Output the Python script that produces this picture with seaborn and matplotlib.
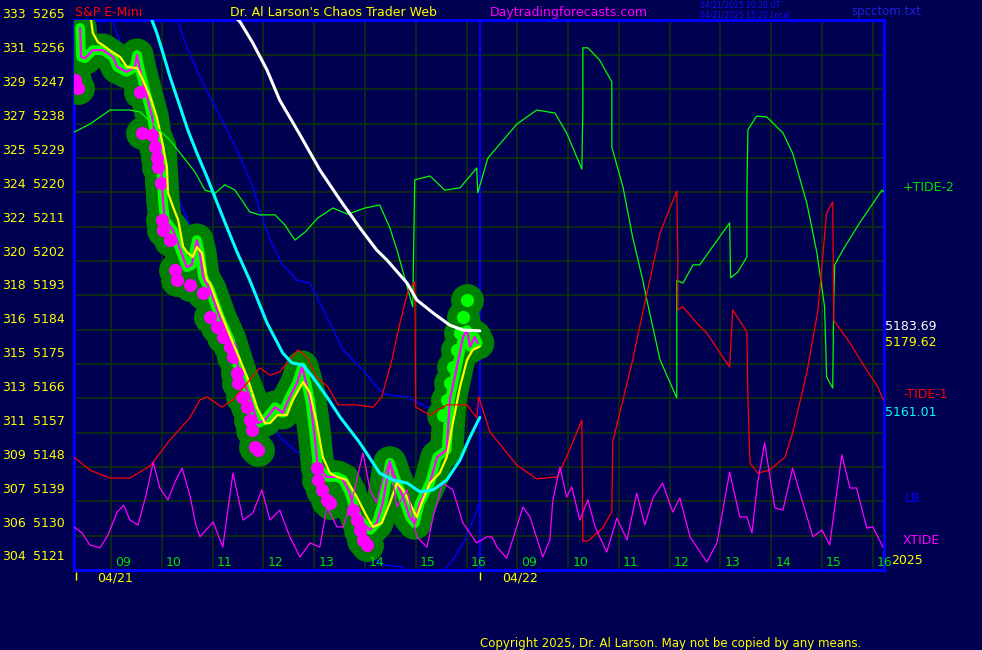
import pandas as pd
import seaborn as sns
import matplotlib.pyplot as plt

# time axis in hours; 04/22 session continues at +8 h (16:15 day 1 == 08:15 day 2)
hour_ticks = [9, 10, 11, 12, 13, 14, 15, 16, 17, 18, 19, 20, 21, 22, 23, 24]
hour_labels = ["09", "10", "11", "12", "13", "14", "15", "16",
               "09", "10", "11", "12", "13", "14", "15", "16"]
price_grid = [5121, 5130, 5139, 5148, 5157, 5166, 5175, 5184, 5193,
              5202, 5211, 5220, 5229, 5238, 5247, 5256, 5265]
price_labels = ["5265", "5256", "5247", "5238", "5229", "5220", "5211", "5202", "5193",
                "5184", "5175", "5166", "5157", "5148", "5139", "5130", "5121"]
left_scale = ["333", "331", "329", "327", "325", "324", "322", "320", "318",
              "316", "315", "313", "311", "309", "307", "306", "304"]

# S&P e-mini price (magenta) and its average (yellow)
price_t = [8.39, 8.41, 8.49, 8.64, 8.84, 9.04, 9.12, 9.31, 9.47, 9.51,
           9.57, 9.67, 9.81, 9.86, 9.96, 10.00, 10.02, 10.06, 10.22, 10.49,
           10.59, 10.65, 10.69, 10.75, 10.81, 10.95, 11.14, 11.34, 11.54, 11.73,
           11.89, 12.03, 12.23, 12.38, 12.52, 12.66, 12.76, 12.82, 12.92, 13.01,
           13.07, 13.25, 13.45, 13.57, 13.70, 13.84, 13.96, 14.10, 14.23, 14.35,
           14.49, 14.63, 14.75, 14.88, 14.98, 15.08, 15.28, 15.42, 15.61, 15.67,
           15.81, 15.93, 16.01, 16.07, 16.16, 16.22]
price_p = [5263.1, 5255.5, 5255.2, 5257.3, 5257.3, 5255.5, 5252.9, 5251.6, 5252.9, 5256.0,
           5252.1, 5246.9, 5239.8, 5235.1, 5231.9, 5223.3, 5218.0, 5212.8, 5210.1, 5200.4,
           5201.0, 5204.9, 5207.5, 5204.1, 5197.8, 5194.4, 5187.3, 5181.3, 5172.7, 5166.4,
           5159.5, 5160.3, 5163.7, 5162.2, 5166.4, 5170.0, 5174.2, 5171.3, 5165.6, 5155.9,
           5148.0, 5145.4, 5145.4, 5144.6, 5141.2, 5134.9, 5133.3, 5131.5, 5133.3, 5138.6,
           5149.1, 5143.8, 5140.1, 5134.9, 5133.3, 5138.6, 5143.8, 5150.6, 5152.5, 5165.6,
           5174.2, 5182.1, 5183.9, 5179.5, 5182.1, 5180.5]
ma_t = [8.58, 8.64, 8.74, 8.84, 9.02, 9.18, 9.31, 9.51, 9.61, 9.77,
        9.90, 10.00, 10.10, 10.12, 10.22, 10.32, 10.42, 10.51, 10.61, 10.69,
        10.79, 10.89, 10.95, 11.14, 11.40, 11.68, 11.87, 12.03, 12.13, 12.27,
        12.46, 12.58, 12.78, 12.92, 13.05, 13.17, 13.31, 13.45, 13.64, 13.84,
        14.04, 14.16, 14.33, 14.49, 14.63, 14.75, 14.92, 15.02, 15.14, 15.28,
        15.47, 15.61, 15.73, 15.87, 16.01, 16.12, 16.26]
ma_p = [5267.8, 5261.8, 5259.4, 5258.6, 5256.8, 5255.5, 5252.9, 5252.6, 5250.0, 5245.0,
        5239.8, 5233.7, 5226.7, 5219.9, 5216.2, 5212.8, 5205.7, 5204.1, 5203.1, 5205.7,
        5204.1, 5197.0, 5196.2, 5189.2, 5180.5, 5171.6, 5163.7, 5159.5, 5159.5, 5161.6,
        5161.6, 5165.6, 5170.3, 5167.4, 5159.5, 5150.6, 5146.4, 5145.4, 5144.6, 5140.1,
        5134.9, 5132.3, 5133.3, 5138.6, 5143.8, 5142.0, 5137.5, 5134.9, 5139.4, 5143.8,
        5146.4, 5150.6, 5159.5, 5169.0, 5176.1, 5178.7, 5179.6]

# down dots (magenta) and up dots (lime)
dot_t = [8.29, 8.35, 9.57, 9.61, 9.81, 9.86, 9.90, 9.92, 9.98, 10.00,
         10.02, 10.16, 10.26, 10.30, 10.55, 10.81, 10.95, 11.09, 11.20, 11.34,
         11.40, 11.48, 11.50, 11.58, 11.68, 11.73, 11.77, 11.83, 11.89, 13.05,
         13.07, 13.15, 13.25, 13.31, 13.76, 13.84, 13.90, 13.96, 14.04]
dot_p = [5249.5, 5247.4, 5246.3, 5235.6, 5235.1, 5231.9, 5229.0, 5226.7, 5222.5, 5212.8,
         5210.1, 5207.5, 5199.7, 5197.0, 5195.7, 5193.6, 5187.3, 5184.7, 5182.1, 5179.5,
         5176.8, 5172.7, 5170.0, 5166.4, 5163.7, 5160.3, 5157.7, 5153.2, 5152.5, 5147.7,
         5144.6, 5142.0, 5139.4, 5138.6, 5136.7, 5134.1, 5131.5, 5128.9, 5127.6]
up_t = [15.53, 15.61, 15.67, 15.73, 15.81, 15.87, 15.93, 16.01]
up_p = [5161.6, 5165.6, 5170.0, 5174.2, 5178.7, 5183.1, 5187.3, 5191.8]

# white and cyan averages
white_t = [11.30, 11.54, 11.79, 12.07, 12.32, 12.72, 13.11, 13.51, 13.90, 14.23,
           14.43, 14.83, 15.02, 15.34, 15.67, 15.93, 16.26]
white_p = [5268.0, 5264.7, 5259.2, 5252.1, 5244.2, 5235.1, 5225.9, 5218.0, 5210.7, 5204.9,
           5202.3, 5196.2, 5191.8, 5188.4, 5185.2, 5183.9, 5183.7]
cyan_t = [9.73, 9.90, 10.02, 10.16, 10.36, 10.51, 10.69, 10.89, 11.09, 11.28,
          11.48, 11.73, 12.07, 12.38, 12.56, 12.78, 12.97, 13.25, 13.51, 13.90,
          14.29, 14.55, 14.83, 15.08, 15.34, 15.61, 15.87, 16.07, 16.26]
cyan_p = [5267.8, 5261.8, 5256.6, 5250.3, 5242.4, 5236.4, 5230.3, 5224.0, 5217.2, 5210.9,
          5204.4, 5197.0, 5185.8, 5177.9, 5175.3, 5174.7, 5171.6, 5166.4, 5161.1, 5154.3,
          5146.4, 5144.6, 5143.8, 5141.5, 5142.0, 5144.6, 5149.8, 5155.9, 5161.0]

# LB lines (blue)
blue1_t = [10.28, 10.49, 10.75, 11.01, 11.28, 11.54, 11.79, 11.99, 12.13, 12.38,
           12.66, 12.92, 13.25, 13.57, 13.96, 14.29, 14.43, 14.83, 15.22, 15.47]
blue1_p = [5266.5, 5258.1, 5250.3, 5243.4, 5236.4, 5229.3, 5221.4, 5212.8, 5207.5, 5201.0,
           5197.0, 5196.2, 5187.3, 5178.7, 5173.4, 5168.2, 5166.9, 5166.4, 5163.7, 5163.0]
blue2_t = [9.00, 9.18, 9.77, 10.75, 11.73, 12.32, 12.66, 12.78, 13.31, 13.70,
           14.10, 14.39, 14.73, 14.83, 15.53, 15.77, 15.97, 16.26]
blue2_p = [5266.0, 5259.2, 5236.4, 5204.9, 5170.8, 5155.9, 5151.9, 5151.9, 5143.3, 5132.8,
           5124.4, 5122.3, 5121.8, 5120.5, 5120.5, 5124.4, 5128.9, 5138.6]

# +TIDE-2 (green)
tide2_t = [8.27, 8.58, 8.98, 9.37, 9.57, 10.16, 10.65, 10.85, 11.05, 11.24,
           11.44, 11.73, 11.93, 12.23, 12.42, 12.62, 12.82, 13.07, 13.37, 13.66,
           14.00, 14.29, 14.49, 14.63, 14.94, 14.98, 15.28, 15.57, 15.87, 16.12,
           16.20, 16.22, 16.42, 16.99, 17.38, 17.74, 17.97, 18.27, 18.29, 18.29,
           18.39, 18.62, 18.86, 18.86, 19.08, 19.27, 19.47, 19.55, 19.81, 20.14,
           20.14, 20.26, 20.46, 20.59, 21.18, 21.20, 21.34, 21.52, 21.52, 21.54,
           21.71, 21.91, 22.23, 22.42, 22.70, 22.90, 23.05, 23.09, 23.21, 23.23,
           23.25, 23.41, 23.74, 24.18, 24.24]
tide2_p = [5235.8, 5237.9, 5241.6, 5241.6, 5241.1, 5233.7, 5225.4, 5220.6, 5219.8, 5222.0,
           5220.6, 5214.9, 5214.1, 5214.1, 5211.5, 5207.5, 5209.6, 5213.3, 5215.9, 5214.3,
           5215.9, 5216.7, 5210.7, 5204.9, 5190.0, 5223.3, 5224.3, 5220.6, 5221.2, 5225.1,
           5226.4, 5219.9, 5229.0, 5237.9, 5241.6, 5240.8, 5235.6, 5226.1, 5242.1, 5257.9,
           5257.9, 5254.7, 5249.0, 5231.9, 5221.4, 5208.3, 5197.0, 5191.8, 5176.1, 5166.1,
           5197.0, 5196.2, 5201.0, 5201.0, 5212.0, 5197.6, 5199.1, 5203.1, 5219.9, 5236.4,
           5240.0, 5239.8, 5235.6, 5230.3, 5217.2, 5204.1, 5190.0, 5171.6, 5168.7, 5191.8,
           5201.0, 5204.9, 5212.0, 5220.6, 5219.9]

# -TIDE-1 (red)
tide1_t = [8.27, 8.58, 8.98, 9.37, 9.77, 10.16, 10.55, 10.75, 10.89, 11.18,
           11.40, 11.93, 12.13, 12.32, 12.68, 12.86, 13.05, 13.27, 13.47, 13.84,
           14.16, 14.33, 14.53, 14.69, 14.85, 14.98, 15.00, 15.28, 15.61, 16.01,
           16.20, 16.24, 16.46, 16.99, 17.38, 17.78, 17.97, 18.27, 18.29, 18.39,
           18.68, 18.86, 18.88, 19.08, 19.27, 19.45, 19.81, 20.14, 20.16, 20.16,
           20.26, 20.53, 20.73, 21.18, 21.24, 21.52, 21.54, 21.58, 21.73, 21.97,
           22.27, 22.42, 22.70, 22.92, 23.09, 23.21, 23.23, 23.55, 23.84, 24.10,
           24.20]
tide1_p = [5150.6, 5147.2, 5145.1, 5145.1, 5148.3, 5155.1, 5160.9, 5165.6, 5166.4, 5163.7,
           5165.6, 5174.0, 5172.1, 5172.9, 5178.7, 5176.8, 5171.6, 5169.0, 5164.3, 5164.3,
           5163.7, 5166.4, 5176.1, 5185.8, 5194.4, 5196.5, 5163.7, 5161.6, 5164.3, 5164.3,
           5160.9, 5166.4, 5157.2, 5148.5, 5144.9, 5145.4, 5150.6, 5160.3, 5128.6, 5128.6,
           5132.0, 5136.2, 5154.6, 5165.6, 5176.1, 5187.3, 5209.4, 5220.4, 5204.9, 5189.2,
           5190.0, 5185.8, 5183.1, 5174.2, 5189.2, 5183.4, 5166.4, 5149.1, 5146.4, 5147.2,
           5150.6, 5156.9, 5172.7, 5189.2, 5214.6, 5217.5, 5186.5, 5180.5, 5174.2, 5169.0,
           5165.6]

# XTIDE (magenta, bottom)
xtide_t = [8.27, 8.43, 8.58, 8.78, 8.94, 9.12, 9.25, 9.37, 9.53, 9.69,
           9.83, 9.96, 10.12, 10.26, 10.40, 10.55, 10.67, 10.75, 11.01, 11.20,
           11.40, 11.60, 11.79, 11.97, 12.13, 12.32, 12.52, 12.72, 12.92, 13.11,
           13.25, 13.45, 13.57, 13.76, 13.96, 14.10, 14.23, 14.35, 14.49, 14.63,
           14.83, 15.02, 15.22, 15.34, 15.53, 15.73, 15.93, 16.20, 16.40, 16.50,
           16.60, 16.79, 16.95, 17.11, 17.25, 17.50, 17.64, 17.70, 17.84, 17.97,
           18.07, 18.23, 18.39, 18.53, 18.76, 18.96, 19.16, 19.35, 19.51, 19.67,
           19.86, 20.06, 20.20, 20.40, 20.73, 20.93, 21.18, 21.38, 21.52, 21.62,
           21.73, 21.87, 22.07, 22.23, 22.42, 22.82, 23.00, 23.15, 23.39, 23.55,
           23.68, 23.88, 24.00, 24.20]
xtide_p = [5132.3, 5130.7, 5127.6, 5126.8, 5130.2, 5136.2, 5138.0, 5134.1, 5132.8, 5140.7,
           5149.3, 5142.5, 5139.4, 5144.1, 5147.7, 5140.7, 5132.8, 5129.7, 5133.6, 5127.0,
           5146.4, 5134.1, 5135.9, 5142.0, 5134.1, 5136.7, 5129.7, 5124.4, 5128.1, 5127.0,
           5137.5, 5132.3, 5132.3, 5140.1, 5151.7, 5142.0, 5138.6, 5144.6, 5149.8, 5137.5,
           5142.0, 5129.7, 5127.0, 5134.9, 5143.8, 5142.0, 5133.3, 5128.1, 5129.7, 5129.7,
           5127.0, 5124.1, 5130.7, 5137.5, 5134.9, 5124.4, 5128.9, 5139.4, 5148.0, 5140.1,
           5142.8, 5134.1, 5139.4, 5132.3, 5125.7, 5134.6, 5128.9, 5141.2, 5132.8, 5139.9,
           5143.8, 5136.2, 5139.9, 5129.7, 5123.1, 5128.1, 5146.7, 5134.9, 5134.9, 5130.7,
           5143.8, 5154.3, 5137.3, 5136.7, 5147.7, 5129.7, 5131.5, 5127.6, 5151.2, 5142.5,
           5142.5, 5132.0, 5132.3, 5127.0]

# colours
navy = "#000050"
grid_col = "#0e300e"
yellow = "#ffff00"
magenta = "#ff00ff"
lime = "#00ff00"
dkgreen = "#008000"
blue = "#0000ff"
red = "#ff0000"
cyan = "#00ffff"

sns.set_style("dark")
plt.rcParams["font.family"] = ["DejaVu Sans"]

W, H = 982, 650
fig = plt.figure(figsize=(W / 100, H / 100), dpi=100, facecolor=navy)
ax = fig.add_axes([74 / W, 80 / H, 810 / W, 550 / H], facecolor=navy)


def fx(x):
    return x / W


def fy(y):
    return 1 - y / H


def trace(t, p, color, lw, z, **kw):
    sns.lineplot(x=t, y=p, sort=False, estimator=None, color=color,
                 linewidth=lw, zorder=z, ax=ax, legend=False, **kw)


# blue LB lines sit under the price halo
trace(blue1_t, blue1_p, blue, 1.0, 2)
trace(blue2_t, blue2_p, blue, 1.0, 2)

# price halo, bars, dots
trace(price_t, price_p, dkgreen, 24, 3, solid_capstyle="round", solid_joinstyle="round")
sns.scatterplot(x=dot_t, y=dot_p, s=560, color=dkgreen, linewidth=0, ax=ax, zorder=3, legend=False)
sns.scatterplot(x=up_t, y=up_p, s=560, color=dkgreen, linewidth=0, ax=ax, zorder=3, legend=False)
trace(price_t, price_p, lime, 7, 4, solid_capstyle="round")
sns.scatterplot(x=up_t, y=up_p, s=90, color=lime, linewidth=0, ax=ax, zorder=5, legend=False)
sns.scatterplot(x=dot_t, y=dot_p, s=90, color=magenta, linewidth=0, ax=ax, zorder=5, legend=False)
trace(price_t, price_p, magenta, 1.6, 6)
trace(ma_t, ma_p, yellow, 1.6, 7)

# tides
trace(tide2_t, tide2_p, lime, 0.9, 8)
trace(tide1_t, tide1_p, red, 0.9, 8)
trace(xtide_t, xtide_p, magenta, 0.9, 8)

# averages
trace(cyan_t, cyan_p, cyan, 2.2, 9)
trace(white_t, white_p, "white", 2.2, 9)

ax.axvline(16.26, color=blue, lw=1.5, zorder=2.5)

ax.set_xlim(8.27, 24.22)
ax.set_ylim(5121, 5265.2)
ax.set_xticks(hour_ticks)
ax.set_yticks(price_grid)
ax.grid(True, color=grid_col, lw=1.2)
ax.set_axisbelow(True)
ax.set_xlabel("")
ax.set_ylabel("")
ax.tick_params(axis="x", direction="out", length=7, width=1.2, color=grid_col, labelbottom=False)
ax.tick_params(axis="y", direction="out", length=2.5, width=1, color="#00a000", labelleft=False)
for s in ax.spines.values():
    s.set_color(blue)
    s.set_linewidth(2.2)

# hour and date labels
xt = ax.get_xaxis_transform()
for h, lab in zip(hour_ticks, hour_labels):
    ax.text(h + 0.08, 0.013, lab, transform=xt, color="#00e000", fontsize=9, va="center", zorder=10)
ax.text(8.72, -0.015, "04/21", transform=xt, color=yellow, fontsize=9, va="center")
ax.text(16.70, -0.015, "04/22", transform=xt, color=yellow, fontsize=9, va="center")
ax.vlines([8.31, 16.26], -0.018, -0.004, transform=xt, colors=yellow, lw=1, clip_on=False)

# left double scale
for i in range(len(price_labels)):
    y = 15 + i * 33.875
    fig.text(fx(2), fy(y), left_scale[i], color=yellow, fontsize=9, va="center")
    fig.text(fx(33), fy(y), price_labels[i], color=yellow, fontsize=9, va="center")

# header
fig.text(fx(75), fy(12.5), "S&P E-Mini", color=red, fontsize=9, va="center")
fig.text(fx(230), fy(12.5), "Dr. Al Larson's Chaos Trader Web", color=yellow, fontsize=9, va="center")
fig.text(fx(490), fy(12.5), "Daytradingforecasts.com", color=magenta, fontsize=9, va="center")
fig.text(fx(700), fy(5), "04/21/2025 20:20 UT", color="#1010ff", fontsize=5.5, va="center")
fig.text(fx(700), fy(15), "04/21/2025 15:20 Local", color="#1010ff", fontsize=5.5, va="center")
fig.text(fx(851), fy(12), "spcctom.txt", color="#2020e0", fontsize=8.5, va="center")
fig.text(fx(480), fy(643), "Copyright 2025, Dr. Al Larson. May not be copied by any means.",
         color=yellow, fontsize=8.5, va="center")

# right side labels
fig.text(fx(903), fy(188), "+TIDE-2", color="#00e000", fontsize=9, va="center")
fig.text(fx(885), fy(327), "5183.69", color="white", fontsize=9, va="center")
fig.text(fx(885), fy(342), "5179.62", color=yellow, fontsize=9, va="center")
fig.text(fx(903), fy(395), "-TIDE-1", color=red, fontsize=9, va="center")
fig.text(fx(885), fy(413), "5161.01", color=cyan, fontsize=9, va="center")
fig.text(fx(905), fy(498), "LB", color=blue, fontsize=9, va="center")
fig.text(fx(903), fy(541), "XTIDE", color=magenta, fontsize=9, va="center")
fig.text(fx(891), fy(561), "2025", color=yellow, fontsize=9, va="center")

fig.savefig("out.png", dpi=100, facecolor=navy)
